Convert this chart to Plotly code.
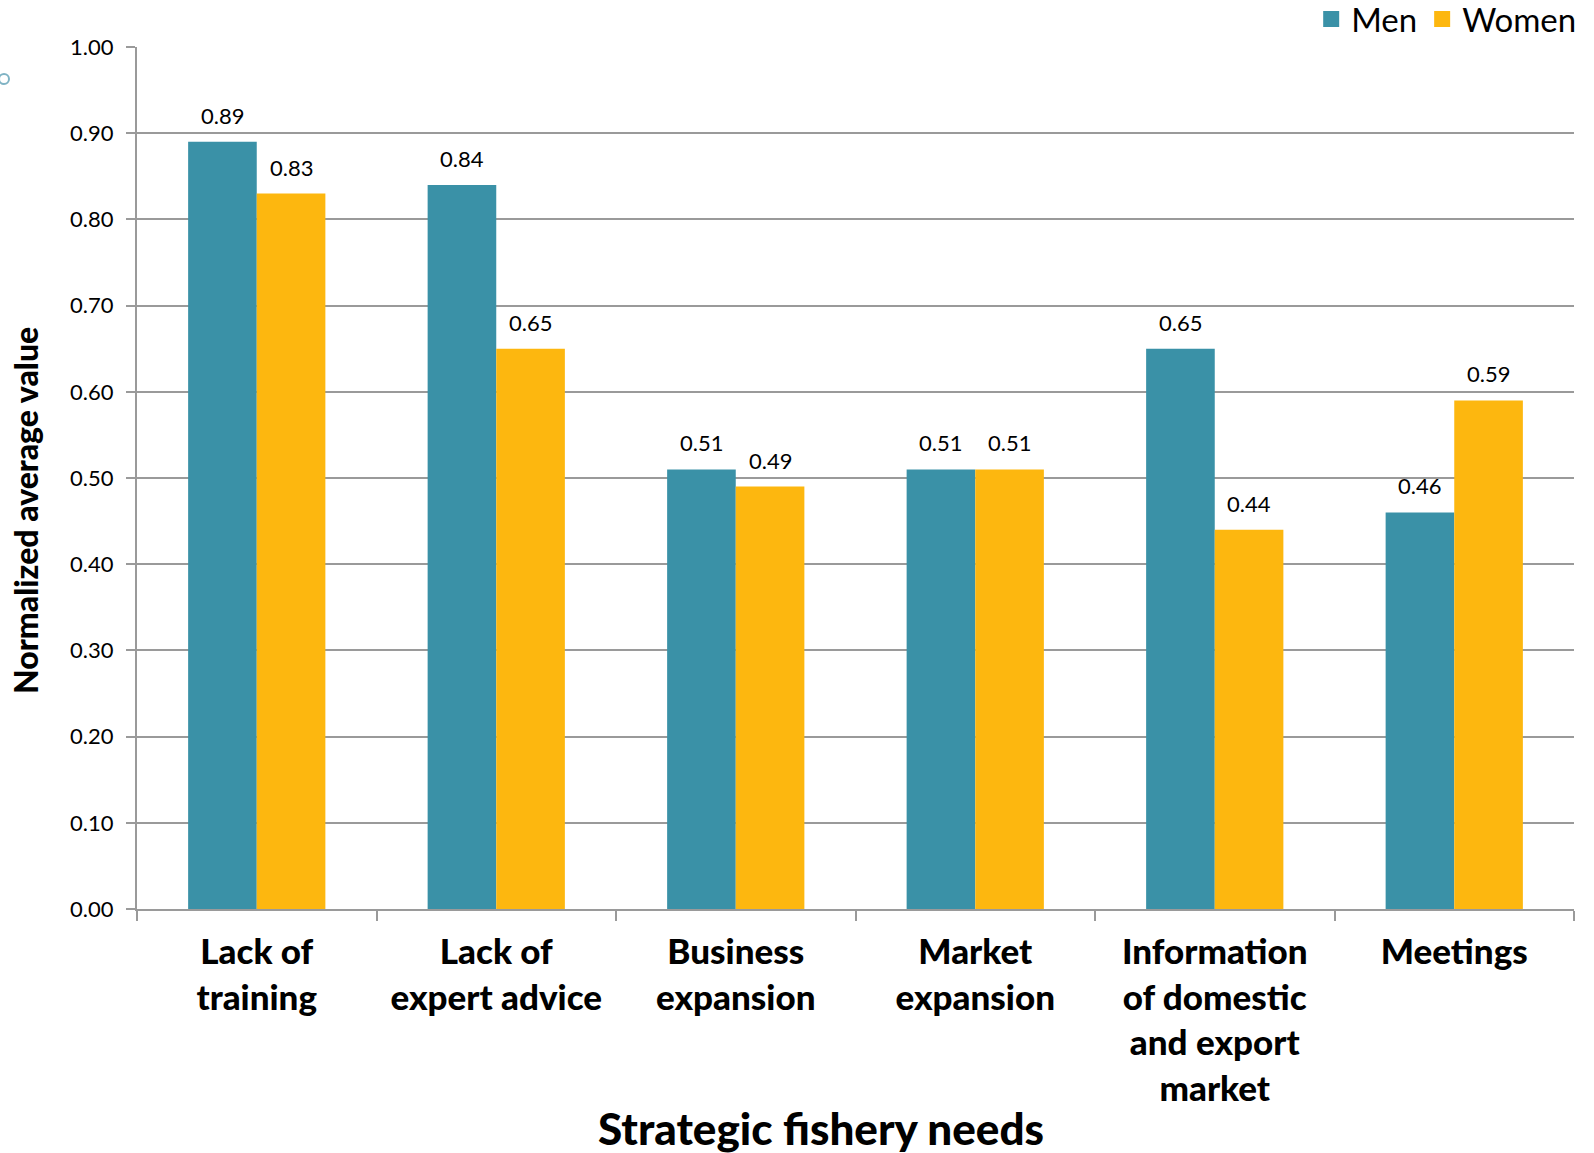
import plotly.graph_objects as go

# Strategic fishery needs by gender (normalized average values)
categories = [
    "Lack of<br>training",
    "Lack of<br>expert advice",
    "Business<br>expansion",
    "Market<br>expansion",
    "Information<br>of domestic<br>and export<br>market",
    "Meetings",
]
men = [0.89, 0.84, 0.51, 0.51, 0.65, 0.46]
women = [0.83, 0.65, 0.49, 0.51, 0.44, 0.59]
y_ticks = [0.0, 0.1, 0.2, 0.3, 0.4, 0.5, 0.6, 0.7, 0.8, 0.9, 1.0]

MEN_COLOR = "#3A91A7"
WOMEN_COLOR = "#FDB70F"
GRID = "#9A9A9A"
FONT = "Lato, 'DejaVu Sans', sans-serif"

W, H = 1594, 1153
M_L, M_R, M_T, M_B = 137, 20, 47, 244
PLOT_W = W - M_L - M_R
PLOT_H = H - M_T - M_B
BARGAP = 0.427
BAR_PX = PLOT_W / len(categories) * (1 - BARGAP) / 2

fig = go.Figure()
for name, vals, color in (("Men", men, MEN_COLOR), ("Women", women, WOMEN_COLOR)):
    fig.add_trace(go.Bar(
        name=name, x=categories, y=vals, marker_color=color,
        marker_line_width=0, showlegend=False, hoverinfo="x+y",
    ))
    # legend entry with a larger square swatch
    fig.add_trace(go.Scatter(
        name=name, x=[None], y=[None], mode="markers",
        marker=dict(symbol="square", size=16, color=color),
        showlegend=True,
    ))

# value labels above each bar
annotations = []
for vals, shift in ((men, -BAR_PX / 2), (women, BAR_PX / 2)):
    for cat, v in zip(categories, vals):
        annotations.append(dict(
            x=cat, y=v, xref="x", yref="y", text=f"{v:.2f}",
            xshift=shift, yshift=11, xanchor="center", yanchor="bottom",
            showarrow=False, font=dict(size=22, family=FONT, color="black"),
        ))

annotations += [
    dict(text="Strategic fishery needs", xref="paper", yref="paper",
         x=(821 - M_L) / PLOT_W, y=-(1128 - (H - M_B)) / PLOT_H,
         xanchor="center", yanchor="middle", showarrow=False,
         font=dict(size=44, family=FONT, color="black", weight=900)),
    dict(text="Normalized average value", xref="paper", yref="paper",
         x=-(M_L - 25) / PLOT_W, y=1 - (511 - M_T) / PLOT_H,
         xanchor="center", yanchor="middle", textangle=-90, showarrow=False,
         font=dict(size=32, family=FONT, color="black", weight=900)),
]

fig.update_layout(
    width=W, height=H,
    margin=dict(l=M_L, r=M_R, t=M_T, b=M_B, autoexpand=False),
    paper_bgcolor="white", plot_bgcolor="white",
    barmode="group", bargap=BARGAP, bargroupgap=0,
    font=dict(family=FONT, color="black"),
    legend=dict(
        orientation="h", x=1.005, xanchor="right", y=1.0, yanchor="bottom",
        font=dict(size=33, family=FONT, color="black"),
        itemsizing="trace", itemwidth=30, traceorder="normal",
        bgcolor="rgba(0,0,0,0)",
    ),
    xaxis=dict(
        type="category", tickson="boundaries",
        ticks="outside", ticklen=10, tickcolor=GRID, tickwidth=2,
        showline=True, linecolor=GRID, linewidth=2,
        showgrid=False,
        tickfont=dict(size=35, family=FONT, color="black", weight=900),
        tickangle=0, ticklabelstandoff=11,
    ),
    yaxis=dict(
        range=[0, 1.0], tickvals=y_ticks,
        ticktext=[f"{v:.2f}" for v in y_ticks],
        ticks="outside", ticklen=9, tickcolor=GRID, tickwidth=2,
        showline=True, linecolor=GRID, linewidth=2,
        showgrid=True, gridcolor=GRID, gridwidth=2,
        tickfont=dict(size=22, family=FONT, color="black"),
        ticklabelstandoff=8,
        zeroline=False,
    ),
    annotations=annotations,
    shapes=[
        dict(type="circle", xref="paper", yref="paper",
             x0=-(M_L + 1) / PLOT_W, x1=-(M_L - 9) / PLOT_W,
             y0=1 - (84 - M_T) / PLOT_H, y1=1 - (74 - M_T) / PLOT_H,
             line=dict(color="#7FB3C4", width=2), fillcolor="white"),
    ],
)

fig.write_html("out.html")
